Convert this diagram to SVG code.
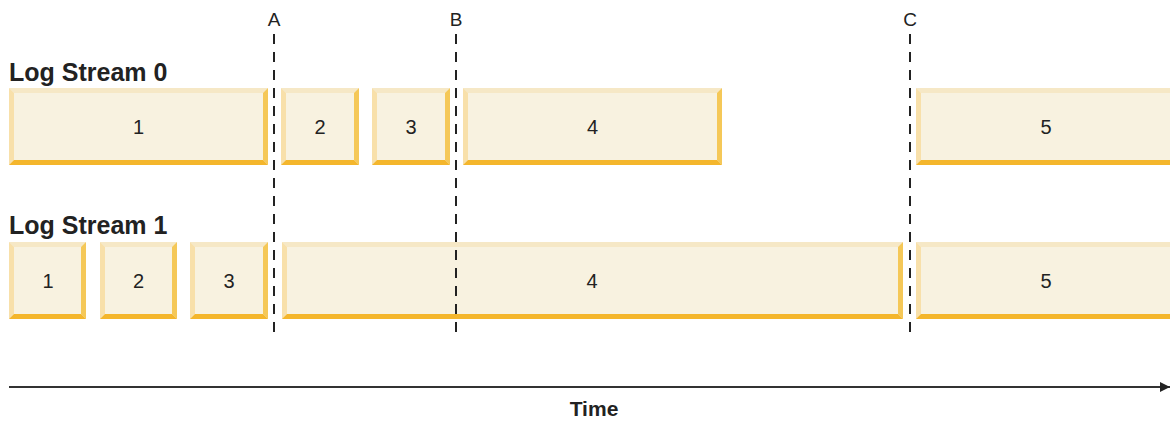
<svg xmlns="http://www.w3.org/2000/svg" width="1170" height="421" viewBox="0 0 1170 421">
<style>
.fill{fill:#f8f2e0}
.bt{fill:#f6e8c6}
.bl{fill:#f8e0aa}
.br{fill:#f5c858}
.bb{fill:#f4b62c}
.num{font-family:"Liberation Sans",Arial,sans-serif;font-size:20px;fill:#222;text-anchor:middle}
.lbl{font-family:"Liberation Sans",Arial,sans-serif;font-size:25px;font-weight:bold;fill:#222}
.mk{font-family:"Liberation Sans",Arial,sans-serif;font-size:19px;fill:#222;text-anchor:middle}
.dash{stroke:#222;stroke-width:2;stroke-dasharray:10 8;fill:none}
</style>
<defs>
<marker id="arr" viewBox="0 0 10 10" refX="10" refY="5" markerWidth="10" markerHeight="10" markerUnits="userSpaceOnUse" orient="auto">
<path d="M0,0 L10,5 L0,10 Z" fill="#222"/>
</marker>
</defs>
<rect width="1170" height="421" fill="#fff"/>
<text class="lbl" x="9" y="81">Log Stream 0</text>
<text class="lbl" x="9" y="234">Log Stream 1</text>

<g id="s0b1"><rect class="fill" x="9" y="88" width="259" height="77"/>
<polygon class="bt" points="9,88 268,88 263,93 14,93"/><polygon class="bl" points="9,88 14,93 14,160 9,165"/><polygon class="br" points="268,88 268,165 263,160 263,93"/><polygon class="bb" points="9,165 14,160 263,160 268,165"/>
<text class="num" x="138.5" y="134">1</text></g>
<g id="s0b2"><rect class="fill" x="281" y="88" width="78" height="77"/>
<polygon class="bt" points="281,88 359,88 354,93 286,93"/><polygon class="bl" points="281,88 286,93 286,160 281,165"/><polygon class="br" points="359,88 359,165 354,160 354,93"/><polygon class="bb" points="281,165 286,160 354,160 359,165"/>
<text class="num" x="320" y="134">2</text></g>
<g id="s0b3"><rect class="fill" x="372" y="88" width="78" height="77"/>
<polygon class="bt" points="372,88 450,88 445,93 377,93"/><polygon class="bl" points="372,88 377,93 377,160 372,165"/><polygon class="br" points="450,88 450,165 445,160 445,93"/><polygon class="bb" points="372,165 377,160 445,160 450,165"/>
<text class="num" x="411" y="134">3</text></g>
<g id="s0b4"><rect class="fill" x="463" y="88" width="259" height="77"/>
<polygon class="bt" points="463,88 722,88 717,93 468,93"/><polygon class="bl" points="463,88 468,93 468,160 463,165"/><polygon class="br" points="722,88 722,165 717,160 717,93"/><polygon class="bb" points="463,165 468,160 717,160 722,165"/>
<text class="num" x="592.5" y="134">4</text></g>
<g id="s0b5"><rect class="fill" x="916" y="88" width="259" height="77"/>
<polygon class="bt" points="916,88 1175,88 1170,93 921,93"/><polygon class="bl" points="916,88 921,93 921,160 916,165"/><polygon class="br" points="1175,88 1175,165 1170,160 1170,93"/><polygon class="bb" points="916,165 921,160 1170,160 1175,165"/>
<text class="num" x="1046" y="134">5</text></g>

<g id="s1b1"><rect class="fill" x="9" y="242" width="77" height="77"/>
<polygon class="bt" points="9,242 86,242 81,247 14,247"/><polygon class="bl" points="9,242 14,247 14,314 9,319"/><polygon class="br" points="86,242 86,319 81,314 81,247"/><polygon class="bb" points="9,319 14,314 81,314 86,319"/>
<text class="num" x="48" y="288">1</text></g>
<g id="s1b2"><rect class="fill" x="100" y="242" width="77" height="77"/>
<polygon class="bt" points="100,242 177,242 172,247 105,247"/><polygon class="bl" points="100,242 105,247 105,314 100,319"/><polygon class="br" points="177,242 177,319 172,314 172,247"/><polygon class="bb" points="100,319 105,314 172,314 177,319"/>
<text class="num" x="138.5" y="288">2</text></g>
<g id="s1b3"><rect class="fill" x="190" y="242" width="78" height="77"/>
<polygon class="bt" points="190,242 268,242 263,247 195,247"/><polygon class="bl" points="190,242 195,247 195,314 190,319"/><polygon class="br" points="268,242 268,319 263,314 263,247"/><polygon class="bb" points="190,319 195,314 263,314 268,319"/>
<text class="num" x="229" y="288">3</text></g>
<g id="s1b4"><rect class="fill" x="282" y="242" width="621" height="77"/>
<polygon class="bt" points="282,242 903,242 898,247 287,247"/><polygon class="bl" points="282,242 287,247 287,314 282,319"/><polygon class="br" points="903,242 903,319 898,314 898,247"/><polygon class="bb" points="282,319 287,314 898,314 903,319"/>
<text class="num" x="592" y="288">4</text></g>
<g id="s1b5"><rect class="fill" x="916" y="242" width="259" height="77"/>
<polygon class="bt" points="916,242 1175,242 1170,247 921,247"/><polygon class="bl" points="916,242 921,247 921,314 916,319"/><polygon class="br" points="1175,242 1175,319 1170,314 1170,247"/><polygon class="bb" points="916,319 921,314 1170,314 1175,319"/>
<text class="num" x="1046" y="288">5</text></g>

<g id="markers">
<text class="mk" x="274" y="26">A</text>
<text class="mk" x="456" y="26">B</text>
<text class="mk" x="910" y="26">C</text>
</g>
<g id="connectors">
<line class="dash" x1="274" y1="34" x2="274" y2="334"/>
<line class="dash" x1="456" y1="34" x2="456" y2="334"/>
<line class="dash" x1="910" y1="34" x2="910" y2="334"/>
<line x1="9" y1="387" x2="1170" y2="387" stroke="#333" stroke-width="2" marker-end="url(#arr)"/>
</g>
<text x="594" y="416" font-family="'Liberation Sans',Arial,sans-serif" font-size="21" font-weight="bold" fill="#222" text-anchor="middle">Time</text>
</svg>
